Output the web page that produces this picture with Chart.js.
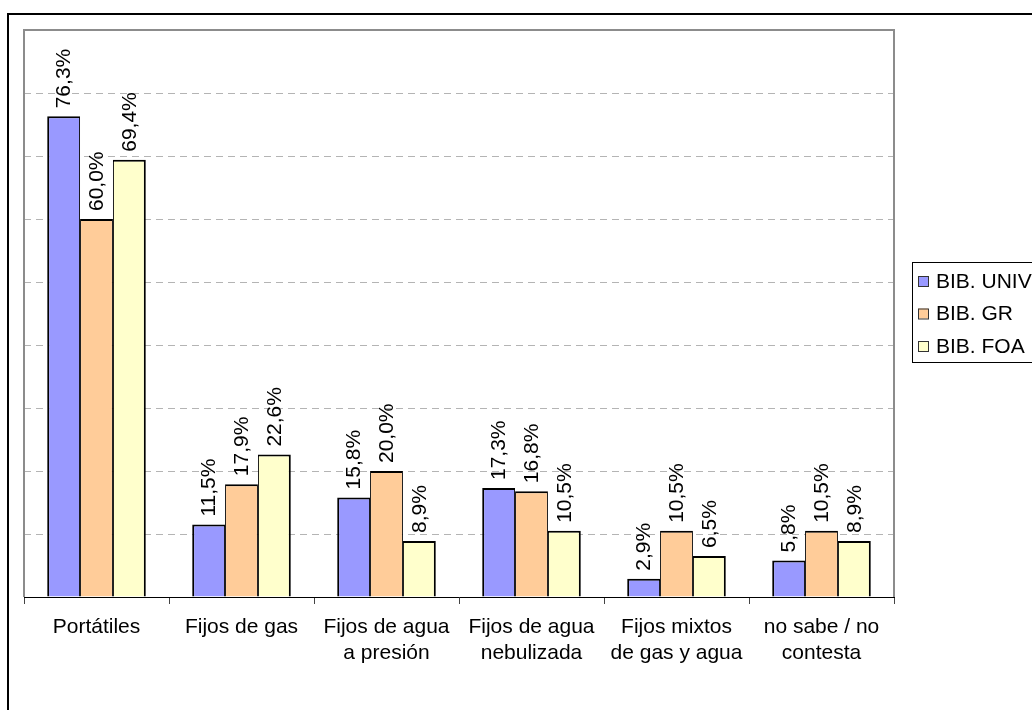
<!DOCTYPE html>
<html>
<head>
<meta charset="utf-8">
<script src="https://cdn.jsdelivr.net/npm/chart.js@4.4.0/dist/chart.umd.min.js"></script>
<style>
    html, body { margin: 0; padding: 0; background: #fff; overflow: hidden; }
    #wrap { position: relative; width: 1032px; height: 710px; }
</style>
</head>
<body>
<div id="wrap"><canvas id="extintores"></canvas></div>
<script>
// Tipos de extintores por biblioteca (%)
const categories = [
    ['Portátiles'],
    ['Fijos de gas'],
    ['Fijos de agua', 'a presión'],
    ['Fijos de agua', 'nebulizada'],
    ['Fijos mixtos', 'de gas y agua'],
    ['no sabe / no', 'contesta']
];
const seriesNames = ['BIB. UNIV', 'BIB. GR', 'BIB. FOA'];
const univValues = [76.3, 11.5, 15.8, 17.3, 2.9, 5.8];
const grValues = [60.0, 17.9, 20.0, 16.8, 10.5, 10.5];
const foaValues = [69.4, 22.6, 8.9, 10.5, 6.5, 8.9];
const yMax = 90;
const yStep = 10;

const fontFamily = '"Liberation Sans", Arial, sans-serif';
const fontSize = 21;
const colors = ['#9999FF', '#FFCC99', '#FFFFCC'];

function fmt_pct(v) {
    return v.toFixed(1).replace('.', ',') + '%';
}

// marco exterior del gráfico
const frame = {
    id: 'frame',
    beforeDraw(chart) {
        const ctx = chart.ctx;
        ctx.save();
        ctx.strokeStyle = '#000';
        ctx.lineWidth = 2;
        ctx.strokeRect(8, 14, 1200, 1000);
        ctx.restore();
    }
};

// borde gris del área de trazado (sin el lado inferior, que es el eje)
const plotBorder = {
    id: 'plotBorder',
    beforeDatasetsDraw(chart) {
        const a = chart.chartArea;
        const ctx = chart.ctx;
        ctx.save();
        ctx.strokeStyle = '#8c8c8c';
        ctx.lineWidth = 2;
        ctx.beginPath();
        ctx.moveTo(a.left, a.bottom);
        ctx.lineTo(a.left, a.top);
        ctx.lineTo(a.right, a.top);
        ctx.lineTo(a.right, a.bottom);
        ctx.stroke();
        ctx.restore();
    }
};

// etiquetas de valor giradas sobre cada barra
const valueLabels = {
    id: 'valueLabels',
    afterDatasetsDraw(chart) {
        const ctx = chart.ctx;
        ctx.save();
        ctx.font = fontSize + 'px ' + fontFamily;
        ctx.fillStyle = '#000';
        ctx.textAlign = 'left';
        ctx.textBaseline = 'middle';
        chart.data.datasets.forEach((ds, i) => {
            chart.getDatasetMeta(i).data.forEach((bar, j) => {
                ctx.save();
                ctx.translate(bar.x + 1, bar.y - 8);
                ctx.rotate(-Math.PI / 2);
                ctx.fillText(fmt_pct(ds.data[j]), 0, 0);
                ctx.restore();
            });
        });
        ctx.restore();
    }
};

// leyenda en recuadro a la derecha
const boxLegend = {
    id: 'boxLegend',
    afterDraw(chart) {
        const ctx = chart.ctx;
        const left = 912, top = 262, rowH = 32.5;
        ctx.save();
        ctx.strokeStyle = '#000';
        ctx.lineWidth = 1;
        ctx.strokeRect(left + 0.5, top + 0.5, 400, 100);
        ctx.font = fontSize + 'px ' + fontFamily;
        ctx.textAlign = 'left';
        ctx.textBaseline = 'middle';
        chart.data.datasets.forEach((ds, i) => {
            const cy = top + 19 + i * rowH;
            ctx.fillStyle = ds.backgroundColor;
            ctx.fillRect(918, cy - 5, 10, 10);
            ctx.strokeStyle = '#333';
            ctx.strokeRect(918.5, cy - 4.5, 10, 10);
            ctx.fillStyle = '#000';
            ctx.fillText(ds.label, 936, cy + 1);
        });
        ctx.restore();
    }
};

const sideBorders = [
    {top: 2, left: 2, right: 1, bottom: 0},
    {top: 2, left: 1, right: 1, bottom: 0},
    {top: 2, left: 1, right: 2, bottom: 0}
];

const seriesValues = [univValues, grValues, foaValues];
const datasets = seriesNames.map((name, i) => ({
    label: name,
    data: seriesValues[i],
    backgroundColor: colors[i],
    borderColor: '#000',
    borderWidth: sideBorders[i],
    borderSkipped: 'start',
    categoryPercentage: 0.68,
    barPercentage: 1.0
}));

const canvas = document.getElementById('extintores');
canvas.width = 1032;
canvas.height = 710;

new Chart(canvas.getContext('2d'), {
    type: 'bar',
    data: {
        labels: categories,
        datasets: datasets
    },
    options: {
        responsive: false,
        animation: false,
        devicePixelRatio: 1,
        layout: {
            padding: {left: 24, top: 30, right: 138, bottom: 0}
        },
        plugins: {
            legend: {display: false},
            tooltip: {enabled: false},
            title: {display: false}
        },
        scales: {
            x: {
                afterFit(scale) { scale.height = 113; },
                grid: {
                    display: true,
                    drawOnChartArea: false,
                    drawTicks: true,
                    tickLength: 7,
                    color: '#444',
                    lineWidth: 1
                },
                border: {display: true, color: '#000', width: 1},
                ticks: {
                    color: '#000',
                    padding: 10,
                    maxRotation: 0,
                    autoSkip: false,
                    font: {family: fontFamily, size: fontSize, lineHeight: 1.25}
                }
            },
            y: {
                min: 0,
                max: yMax,
                afterFit(scale) { scale.width = 0; },
                ticks: {display: false, stepSize: yStep},
                grid: {
                    drawTicks: false,
                    color: '#b4b4b4',
                    lineWidth: 1
                },
                border: {display: false, dash: [7, 5]}
            }
        }
    },
    plugins: [frame, plotBorder, valueLabels, boxLegend]
});
</script>
</body>
</html>
